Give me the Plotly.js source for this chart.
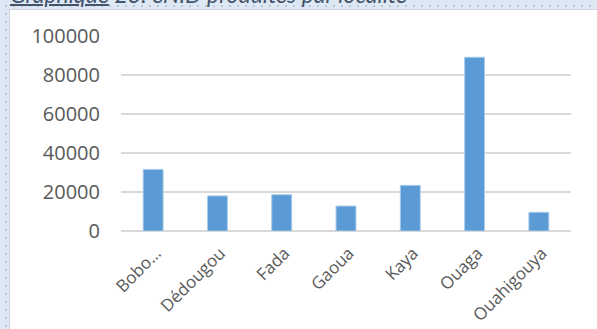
<!DOCTYPE html>
<html>
<head>
<meta charset="utf-8">
<script src="https://cdn.plot.ly/plotly-3.0.1.min.js"></script>
<style>
  html, body { margin: 0; padding: 0; width: 597px; height: 329px; overflow: hidden; }
  body {
    position: relative;
    background-color: #DDE8F4;
    background-image: radial-gradient(circle, #B9C6D3 0.9px, transparent 1.2px);
    background-size: 8px 8px;
    background-position: 2px 2px;
  }
  #sheet { position: absolute; left: 9px; top: 9px; width: 588px; height: 320px; background: #ffffff;
           border-left: 1px solid #D3D6DA; border-top: 1px solid #D3D6DA; box-sizing: border-box; }
  #caption { position: absolute; left: 10px; top: -20px; font-family: Lato, "Open Sans", sans-serif; font-style: italic;
             font-size: 23px; color: #44546A; white-space: nowrap; }
  #caption u { text-decoration-thickness: 2px; }
  #chart { position: absolute; left: 0; top: 0; width: 597px; height: 329px; }
</style>
</head>
<body>
<div id="caption"><u>Graphique</u> 23: eNID produites par localité</div>
<div id="sheet"></div>
<div id="chart"></div>
<script>
const categories = ["Bobo…", "Dédougou", "Fada", "Gaoua", "Kaya", "Ouaga", "Ouahigouya"];
const values = [31600, 18000, 18600, 12800, 23400, 89100, 9600];
const yTickValues = [0, 20000, 40000, 60000, 80000, 100000];
const yTickLabels = ["0", "20000", "40000", "60000", "80000", "100000"];

const trace = {
  type: "bar",
  x: categories,
  y: values,
  marker: { color: "#5B9BD5", line: { color: "#A9CBEA", width: 1 } },
  hoverinfo: "skip"
};

const layout = {
  width: 597,
  height: 329,
  margin: { l: 121, r: 26, t: 36, b: 98 },
  paper_bgcolor: "rgba(0,0,0,0)",
  plot_bgcolor: "rgba(0,0,0,0)",
  showlegend: false,
  bargap: 0.69,
  font: { family: "'Open Sans', sans-serif", color: "#595959" },
  xaxis: {
    type: "category",
    tickangle: -45,
    tickfont: { size: 17, color: "#595959" },
    showgrid: false,
    showline: false,
    zeroline: false,
    ticks: "",
    ticklabelstandoff: 8,
    ticklabelshift: 3
  },
  yaxis: {
    range: [0, 100000],
    tickmode: "array",
    tickvals: yTickValues,
    ticktext: yTickLabels,
    tickfont: { size: 20, color: "#595959" },
    showgrid: true,
    gridcolor: "#D9D9D9",
    gridwidth: 1.5,
    zeroline: true,
    zerolinecolor: "#D9D9D9",
    zerolinewidth: 1.5,
    showline: false,
    ticks: "",
    ticklabelstandoff: 20
  }
};

Plotly.newPlot("chart", [trace], layout, { displayModeBar: false, staticPlot: true });
</script>
</body>
</html>
